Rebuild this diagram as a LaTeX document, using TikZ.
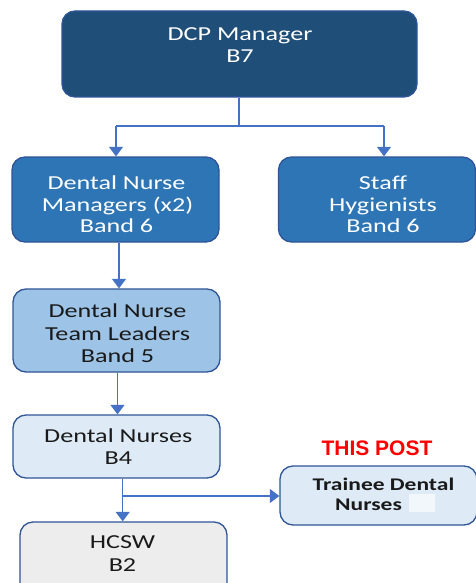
\documentclass[tikz,border=0pt]{standalone}
\usepackage{fontspec}
\setmainfont{Carlito}[FakeStretch=1.32]
\newfontfamily\arialfont{Liberation Sans}
\usetikzlibrary{arrows.meta}
\definecolor{cdcp}{HTML}{1F4E79}
\definecolor{cmid}{HTML}{2E75B6}
\definecolor{clight}{HTML}{9DC3E6}
\definecolor{cpale}{HTML}{DEEBF7}
\definecolor{cgrey}{HTML}{EDEDED}
\definecolor{cbord}{HTML}{2F5597}
\definecolor{carr}{HTML}{4472C4}
\definecolor{ctext}{HTML}{1A1A1A}
\begin{document}
\begin{tikzpicture}[x=1pt,y=-1pt,
  box/.style={draw=cbord, line width=1.3pt, rounded corners=13pt, inner sep=0pt, rectangle},
  lbl/.style={anchor=base, inner sep=0pt, font=\fontsize{19.8}{22}\selectfont},
  conn/.style={draw=carr, line width=1.2pt},
  tip/.style={-{Triangle[width=14pt,length=9.5pt]}}]
\useasboundingbox (0,0) rectangle (476,583);
\clip (0,0) rectangle (476,583);
\fill[white] (0,0) rectangle (476,583);
% boxes
\node[box, fill=cdcp, minimum width=355pt, minimum height=86pt] (dcp) at (239.5,54) {};
\node[box, fill=cmid, minimum width=207pt, minimum height=85pt] (dnm) at (115.5,199.5) {};
\node[box, fill=cmid, minimum width=197pt, minimum height=85pt] (sh) at (377,199.5) {};
\node[box, fill=clight, minimum width=207pt, minimum height=83pt] (dntl) at (116.5,330.5) {};
\node[box, fill=cpale, minimum width=207pt, minimum height=63pt] (dn) at (116.5,446.5) {};
\node[box, fill=cpale, minimum width=197pt, minimum height=59pt] (tr) at (378.5,495.5) {};
\node[box, fill=cgrey, minimum width=207pt, minimum height=100pt] (hcsw) at (123.5,572) {};
% texts
\node[lbl, text=white] (t1a) at (240,40.7) {DCP Manager};
\node[lbl, text=white] (t1b) at (240,62.7) {B7};
\node[lbl, text=white] (t2a) at (116.5,189.3) {Dental Nurse};
\node[lbl, text=white] (t2b) at (117.5,211) {Managers (x2)};
\node[lbl, text=white] (t2c) at (116.5,232.7) {Band 6};
\node[lbl, text=white] (t3a) at (383,189.3) {Staff};
\node[lbl, text=white] (t3b) at (383,211) {Hygienists};
\node[lbl, text=white] (t3c) at (383,232.7) {Band 6};
\node[lbl, text=ctext] (t4a) at (117.5,317.3) {Dental Nurse};
\node[lbl, text=ctext] (t4b) at (117.5,340) {Team Leaders};
\node[lbl, text=ctext] (t4c) at (117.5,362.3) {Band 5};
\node[lbl, text=ctext] (t5a) at (118.3,442.3) {Dental Nurses};
\node[lbl, text=ctext] (t5b) at (118.3,464.3) {B4};
\node[lbl, text=ctext] (t6a) at (122.5,548) {HCSW};
\node[lbl, text=ctext] (t6b) at (122.5,571.7) {B2};
\node[lbl, text=ctext, font=\bfseries\fontsize{17.8}{20}\selectfont] (t7a) at (383.5,490.7) {Trainee Dental};
\node[lbl, text=ctext, anchor=base west, font=\bfseries\fontsize{17.8}{20}\selectfont] (t7b) at (335,510) {Nurses};
\fill[white, opacity=0.6] (409,494) rectangle (435,512);
\node[anchor=base, inner sep=0pt, text=red, font=\arialfont\bfseries\fontsize{21}{24}\selectfont] (post) at (377,455) {THIS POST};
% connectors
\coordinate (j0) at (239,126);
\coordinate (jl) at (116,126);
\coordinate (jr) at (384,126);
\draw[conn, line width=1.7pt] (dcp.south -| j0) -- (j0);
\draw[conn] (jl) -- (jr);
\draw[conn, tip] (jl) -- (dnm.north -| jl);
\draw[conn, tip] (jr) -- (sh.north -| jr);
\coordinate (a1) at (119,200);
\draw[conn, tip] (dnm.south -| a1) -- (dntl.north -| a1);
\coordinate (a2) at (117.5,300);
\draw[conn, tip] (dntl.south -| a2) -- (dn.north -| a2);
\coordinate (a3) at (122.7,496);
\draw[conn, tip] (dn.south -| a3) -- (hcsw.north -| a3);
\draw[conn, tip] (a3) -- (tr.west |- a3);
\end{tikzpicture}
\end{document}
